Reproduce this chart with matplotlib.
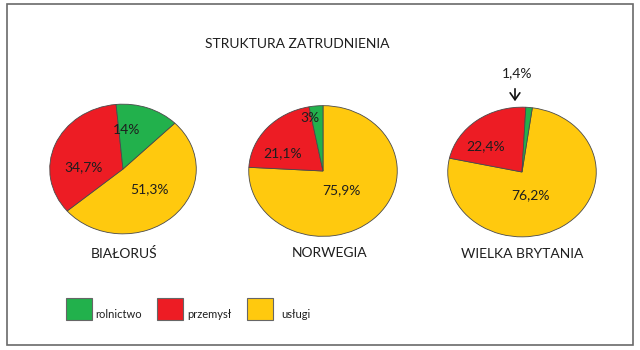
import matplotlib
matplotlib.use("Agg")
import matplotlib.pyplot as plt
from matplotlib.patches import Rectangle

plt.rcParams['font.family'] = ['Lato', 'DejaVu Sans']

# ---- data ----
title = "STRUKTURA ZATRUDNIENIA"
sectors = ["rolnictwo", "przemysł", "usługi"]
colors = ["#22B14C", "#ED1C24", "#FFC90E"]
countries = ["BIAŁORUŚ", "NORWEGIA", "WIELKA BRYTANIA"]
rolnictwo = [14.0, 3.0, 1.4]
przemysl = [34.7, 21.1, 22.4]
uslugi = [51.3, 75.9, 76.2]
value_labels = [["14%", "34,7%", "51,3%"],
                ["3%", "21,1%", "75,9%"],
                ["1,4%", "22,4%", "76,2%"]]

W, H = 640, 350
fig = plt.figure(figsize=(W / 100, H / 100), dpi=100)
TXT = "#1e1e1e"


def fx(x):
    return x / W


def fy(y):
    return 1 - y / H


# outer frame
fig.patches.append(Rectangle((fx(7), fy(345)), fx(633) - fx(7), fy(4) - fy(345),
                             transform=fig.transFigure, fill=False,
                             edgecolor="#6a6a6a", linewidth=1.2))

fig.text(fx(297), fy(44), title, ha="center", va="center", fontsize=10, color=TXT)

# pie geometry (pixel centre, width, height) and start angles
pies = [((123, 169), 148, 131, 45),
        ((323, 171), 150, 132, 90),
        ((522, 172), 150, 131, 82)]
# label pixel positions: green, red, yellow
label_pos = [[(127, 130), (84, 167), (149, 189)],
             [(310, 118), (283, 153), (341, 190)],
             [None, (486, 146), (530, 195)]]
name_pos = [(124, 253), (330, 253), (522, 254)]

for i, ((cx, cy), w, h, start) in enumerate(pies):
    ax = fig.add_axes([fx(cx - w / 2), fy(cy + h / 2), w / W, h / H])
    vals = [uslugi[i], przemysl[i], rolnictwo[i]]
    cols = [colors[2], colors[1], colors[0]]
    ax.pie(vals, colors=cols, startangle=start, counterclock=False,
           wedgeprops=dict(edgecolor="#4a4a4a", linewidth=0.6))
    ax.set_aspect("auto")
    ax.set_xlim(-1.01, 1.01)
    ax.set_ylim(-1.01, 1.01)
    ax.axis("off")
    for j, pos in enumerate(label_pos[i]):
        if pos is None:
            continue
        fig.text(fx(pos[0]), fy(pos[1]), value_labels[i][j], ha="center",
                 va="center", fontsize=10, color=TXT)
    fig.text(fx(name_pos[i][0]), fy(name_pos[i][1]), countries[i],
             ha="center", va="center", fontsize=10, color=TXT)

# small-value label with arrow for Wielka Brytania
fig.text(fx(517), fy(73), value_labels[2][0], ha="center", va="center",
         fontsize=10, color=TXT)
fig.add_artist(matplotlib.patches.FancyArrowPatch(
    (fx(515), fy(86)), (fx(515), fy(104)), transform=fig.transFigure,
    arrowstyle="->,head_length=5,head_width=3.5", color="#111111", linewidth=1.2))

# legend
leg = [(66, 95), (157, 187), (247, 281)]
for k, (sx, tx) in enumerate(leg):
    fig.patches.append(Rectangle((fx(sx), fy(320)), 26 / W, 22 / H,
                                 transform=fig.transFigure, facecolor=colors[k],
                                 edgecolor="#666666", linewidth=0.8))
    fig.text(fx(tx), fy(314), sectors[k], ha="left", va="center",
             fontsize=8, color=TXT)

fig.savefig("out.png", dpi=100, facecolor="white")
